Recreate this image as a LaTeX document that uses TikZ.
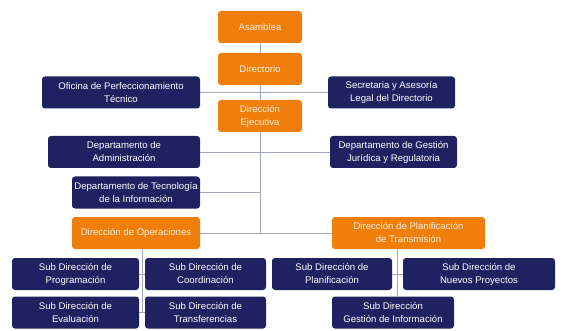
\documentclass[tikz,border=0pt]{standalone}
\usepackage{fontspec}
\setmainfont{Liberation Sans}
\definecolor{naranja}{RGB}{240,126,10}
\definecolor{marino}{RGB}{31,33,96}
\definecolor{enlace}{RGB}{160,166,190}
\begin{document}
\begin{tikzpicture}[x=1pt, y=-1pt,
  caja/.style={rounded corners=3pt, align=center, inner sep=1pt,
    minimum height=32pt, font=\fontsize{9.6}{13}\selectfont},
  naranjo/.style={caja, fill=naranja, text=white!88!orange},
  azul/.style={caja, fill=marino, text=white},
  enl/.style={draw=enlace, line width=0.9pt}]
  \useasboundingbox (0,0) rectangle (567,331);
  % Cadena principale
  \node[naranjo, minimum width=84pt] (asa) at (260,27) {Asamblea};
  \node[naranjo, minimum width=84pt] (dir) at (260,69) {Directorio};
  \node[naranjo, minimum width=84pt] (eje) at (260,116) {Dirección\\Ejecutiva};
  % Organes du directoire
  \node[azul, minimum width=158pt] (ofi) at (121,92.5) {Oficina de Perfeccionamiento\\Técnico};
  \node[azul, minimum width=127pt] (sec) at (391.5,92.5) {Secretaria y Asesoría\\Legal del Directorio};
  % Departements
  \node[azul, minimum width=152pt] (adm) at (124,152) {Departamento de\\Administración};
  \node[azul, minimum width=127pt] (jur) at (393.5,152) {Departamento de Gestión\\Jurídica y Regulatoria};
  \node[azul, minimum width=128pt] (tec) at (136,192.5) {Departamento de Tecnología\\de la Información};
  % Directions
  \node[naranjo, minimum width=128pt] (ope) at (136,233) {Dirección de Operaciones};
  \node[naranjo, minimum width=153pt] (pla) at (408.5,233) {Dirección de Planificación\\de Transmisión};
  % Sous-directions (operations)
  \node[azul, minimum width=127pt] (pro) at (75.5,274) {Sub Dirección de\\Programación};
  \node[azul, minimum width=121pt] (coo) at (205.5,274) {Sub Dirección de\\Coordinación};
  \node[azul, minimum width=127pt] (eva) at (75.5,312.5) {Sub Dirección de\\Evaluación};
  \node[azul, minimum width=121pt] (tra) at (205.5,312.5) {Sub Dirección de\\Transferencias};
  % Sous-directions (planification)
  \node[azul, minimum width=120pt] (spl) at (332,274) {Sub Dirección de\\Planificación};
  \node[azul, minimum width=152pt] (nue) at (479,274) {Sub Dirección de\\Nuevos Proyectos};
  \node[azul, minimum width=122pt] (gin) at (393,312.5) {Sub Dirección\\Gestión de Información};
  % Liaisons
  \coordinate (opebus) at (142,248.5);
  \coordinate (plabus) at (397.5,249);
  \draw[enl] (asa) -- (dir) -- (eje);
  \draw[enl] (ofi.east) -- (sec.west);
  \draw[enl] (eje.south) |- (ope.east);
  \draw[enl] (eje.south |- pla.west) -- (pla.west);
  \draw[enl] (adm.east) -- (jur.west);
  \draw[enl] (tec.east) -- (tec.east -| eje.south);
  \draw[enl] (opebus) -- (opebus |- eva.east);
  \draw[enl] (pro.east) -- (coo.west);
  \draw[enl] (eva.east) -- (tra.west);
  \draw[enl] (plabus) -- (plabus |- gin.north);
  \draw[enl] (spl.east) -- (nue.west);
\end{tikzpicture}
\end{document}
